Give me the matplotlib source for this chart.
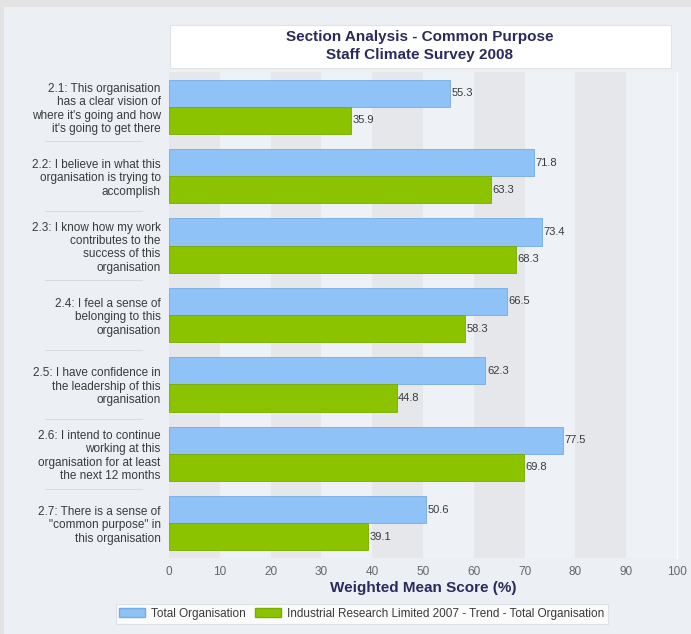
import matplotlib
matplotlib.use('Agg')
import matplotlib.pyplot as plt
import matplotlib.patches as mpatches
import numpy as np

plt.rcParams['font.family'] = ['Liberation Sans', 'DejaVu Sans']

# ---- Data ----
questions = [
    "2.1: This organisation\nhas a clear vision of\nwhere it's going and how\nit's going to get there",
    "2.2: I believe in what this\norganisation is trying to\naccomplish",
    "2.3: I know how my work\ncontributes to the\nsuccess of this\norganisation",
    "2.4: I feel a sense of\nbelonging to this\norganisation",
    "2.5: I have confidence in\nthe leadership of this\norganisation",
    "2.6: I intend to continue\nworking at this\norganisation for at least\nthe next 12 months",
    "2.7: There is a sense of\n\"common purpose\" in\nthis organisation",
]
total_org = [55.3, 71.8, 73.4, 66.5, 62.3, 77.5, 50.6]
trend_2007 = [35.9, 63.3, 68.3, 58.3, 44.8, 69.8, 39.1]
series_names = ["Total Organisation",
                "Industrial Research Limited 2007 - Trend - Total Organisation"]
x_ticks = [0, 10, 20, 30, 40, 50, 60, 70, 80, 90, 100]

BLUE = '#8fc3f8'
BLUE_EDGE = '#74abe2'
GREEN = '#8cc300'
GREEN_EDGE = '#7aab00'
NAVY = '#2b2a5c'
TEXT = '#3a3a3a'

W, H = 691, 634
fig = plt.figure(figsize=(W / 100, H / 100), dpi=100)
fig.patch.set_facecolor('#eceff4')

# outer grey frame strips
fig.add_artist(mpatches.Rectangle((0, 1 - 7 / H), 1, 7 / H, transform=fig.transFigure,
                                  facecolor='#e3e3e3', edgecolor='none'))
fig.add_artist(mpatches.Rectangle((0, 0), 4 / W, 1, transform=fig.transFigure,
                                  facecolor='#e3e3e3', edgecolor='none'))

# ---- Plot area ----
ax_l, ax_r, ax_t, ax_b = 169, 677, 72, 558
ax = fig.add_axes([ax_l / W, 1 - ax_b / H, (ax_r - ax_l) / W, (ax_b - ax_t) / H])
ax.set_facecolor('#eef1f5')

for k in range(0, 100, 20):
    ax.axvspan(k, k + 10, facecolor='#e5e7ea', edgecolor='none', zorder=0)

n = len(questions)
y = np.arange(n)
bh = 0.39
ax.barh(y - bh / 2, total_org, height=bh, color=BLUE, edgecolor=BLUE_EDGE,
        linewidth=0.6, zorder=2, label=series_names[0])
ax.barh(y + bh / 2, trend_2007, height=bh, color=GREEN, edgecolor=GREEN_EDGE,
        linewidth=0.6, zorder=2, label=series_names[1])

for yi, v in zip(y, total_org):
    ax.text(v + 0.3, yi - bh / 2, f'{v:.1f}', va='center', ha='left',
            fontsize=8, color=TEXT, zorder=3)
for yi, v in zip(y, trend_2007):
    ax.text(v + 0.3, yi + bh / 2, f'{v:.1f}', va='center', ha='left',
            fontsize=8, color=TEXT, zorder=3)

ax.set_xlim(0, 100)
ax.set_ylim(n - 0.5, -0.5)
ax.set_xticks(x_ticks)
ax.set_xticklabels([str(t) for t in x_ticks], fontsize=8.5, color='#666666')
ax.set_yticks(y)
ax.set_yticklabels(questions, fontsize=8.5, color=TEXT, linespacing=1.15)
ax.tick_params(axis='both', length=0, pad=6)
ax.tick_params(axis='x', pad=6)
for s in ax.spines.values():
    s.set_visible(False)
ax.spines['right'].set_visible(True)
ax.spines['right'].set_color('#ffffff')
ax.spines['right'].set_linewidth(1.0)

ax.set_xlabel('Weighted Mean Score (%)', fontsize=11, fontweight='bold',
              color=NAVY, labelpad=2)

# faint separators between category labels
for k in range(1, n):
    yp = ax_t + k * (ax_b - ax_t) / n
    fig.add_artist(plt.Line2D([45 / W, 142 / W], [1 - yp / H, 1 - yp / H],
                              transform=fig.transFigure, color='#d6d9de', linewidth=0.7))

# ---- Title box ----
fig.add_artist(mpatches.Rectangle((170 / W, 1 - 68 / H), (671 - 170) / W, 43 / H,
                                  transform=fig.transFigure, facecolor='white',
                                  edgecolor='#e0e2e6', linewidth=0.8))
fig.text(420 / W, 1 - 37 / H, 'Section Analysis - Common Purpose', ha='center',
         va='center', fontsize=11, fontweight='bold', color=NAVY)
fig.text(420 / W, 1 - 55 / H, 'Staff Climate Survey 2008', ha='center',
         va='center', fontsize=11, fontweight='bold', color=NAVY)

# ---- Legend ----
handles = [mpatches.Patch(facecolor=BLUE, edgecolor=BLUE_EDGE, label=series_names[0]),
           mpatches.Patch(facecolor=GREEN, edgecolor=GREEN_EDGE, label=series_names[1])]
leg = fig.legend(handles=handles, loc='center', bbox_to_anchor=(362 / W, 1 - 614 / H),
                 ncol=2, fontsize=8.5, frameon=True, fancybox=False, handlelength=2.2,
                 handleheight=0.8, handletextpad=0.5, columnspacing=0.8,
                 borderpad=0.3, labelcolor=TEXT)
leg.get_frame().set_facecolor('white')
leg.get_frame().set_edgecolor('#d8dbe0')
leg.get_frame().set_linewidth(0.8)

fig.savefig('out.png', dpi=100, facecolor=fig.get_facecolor())
